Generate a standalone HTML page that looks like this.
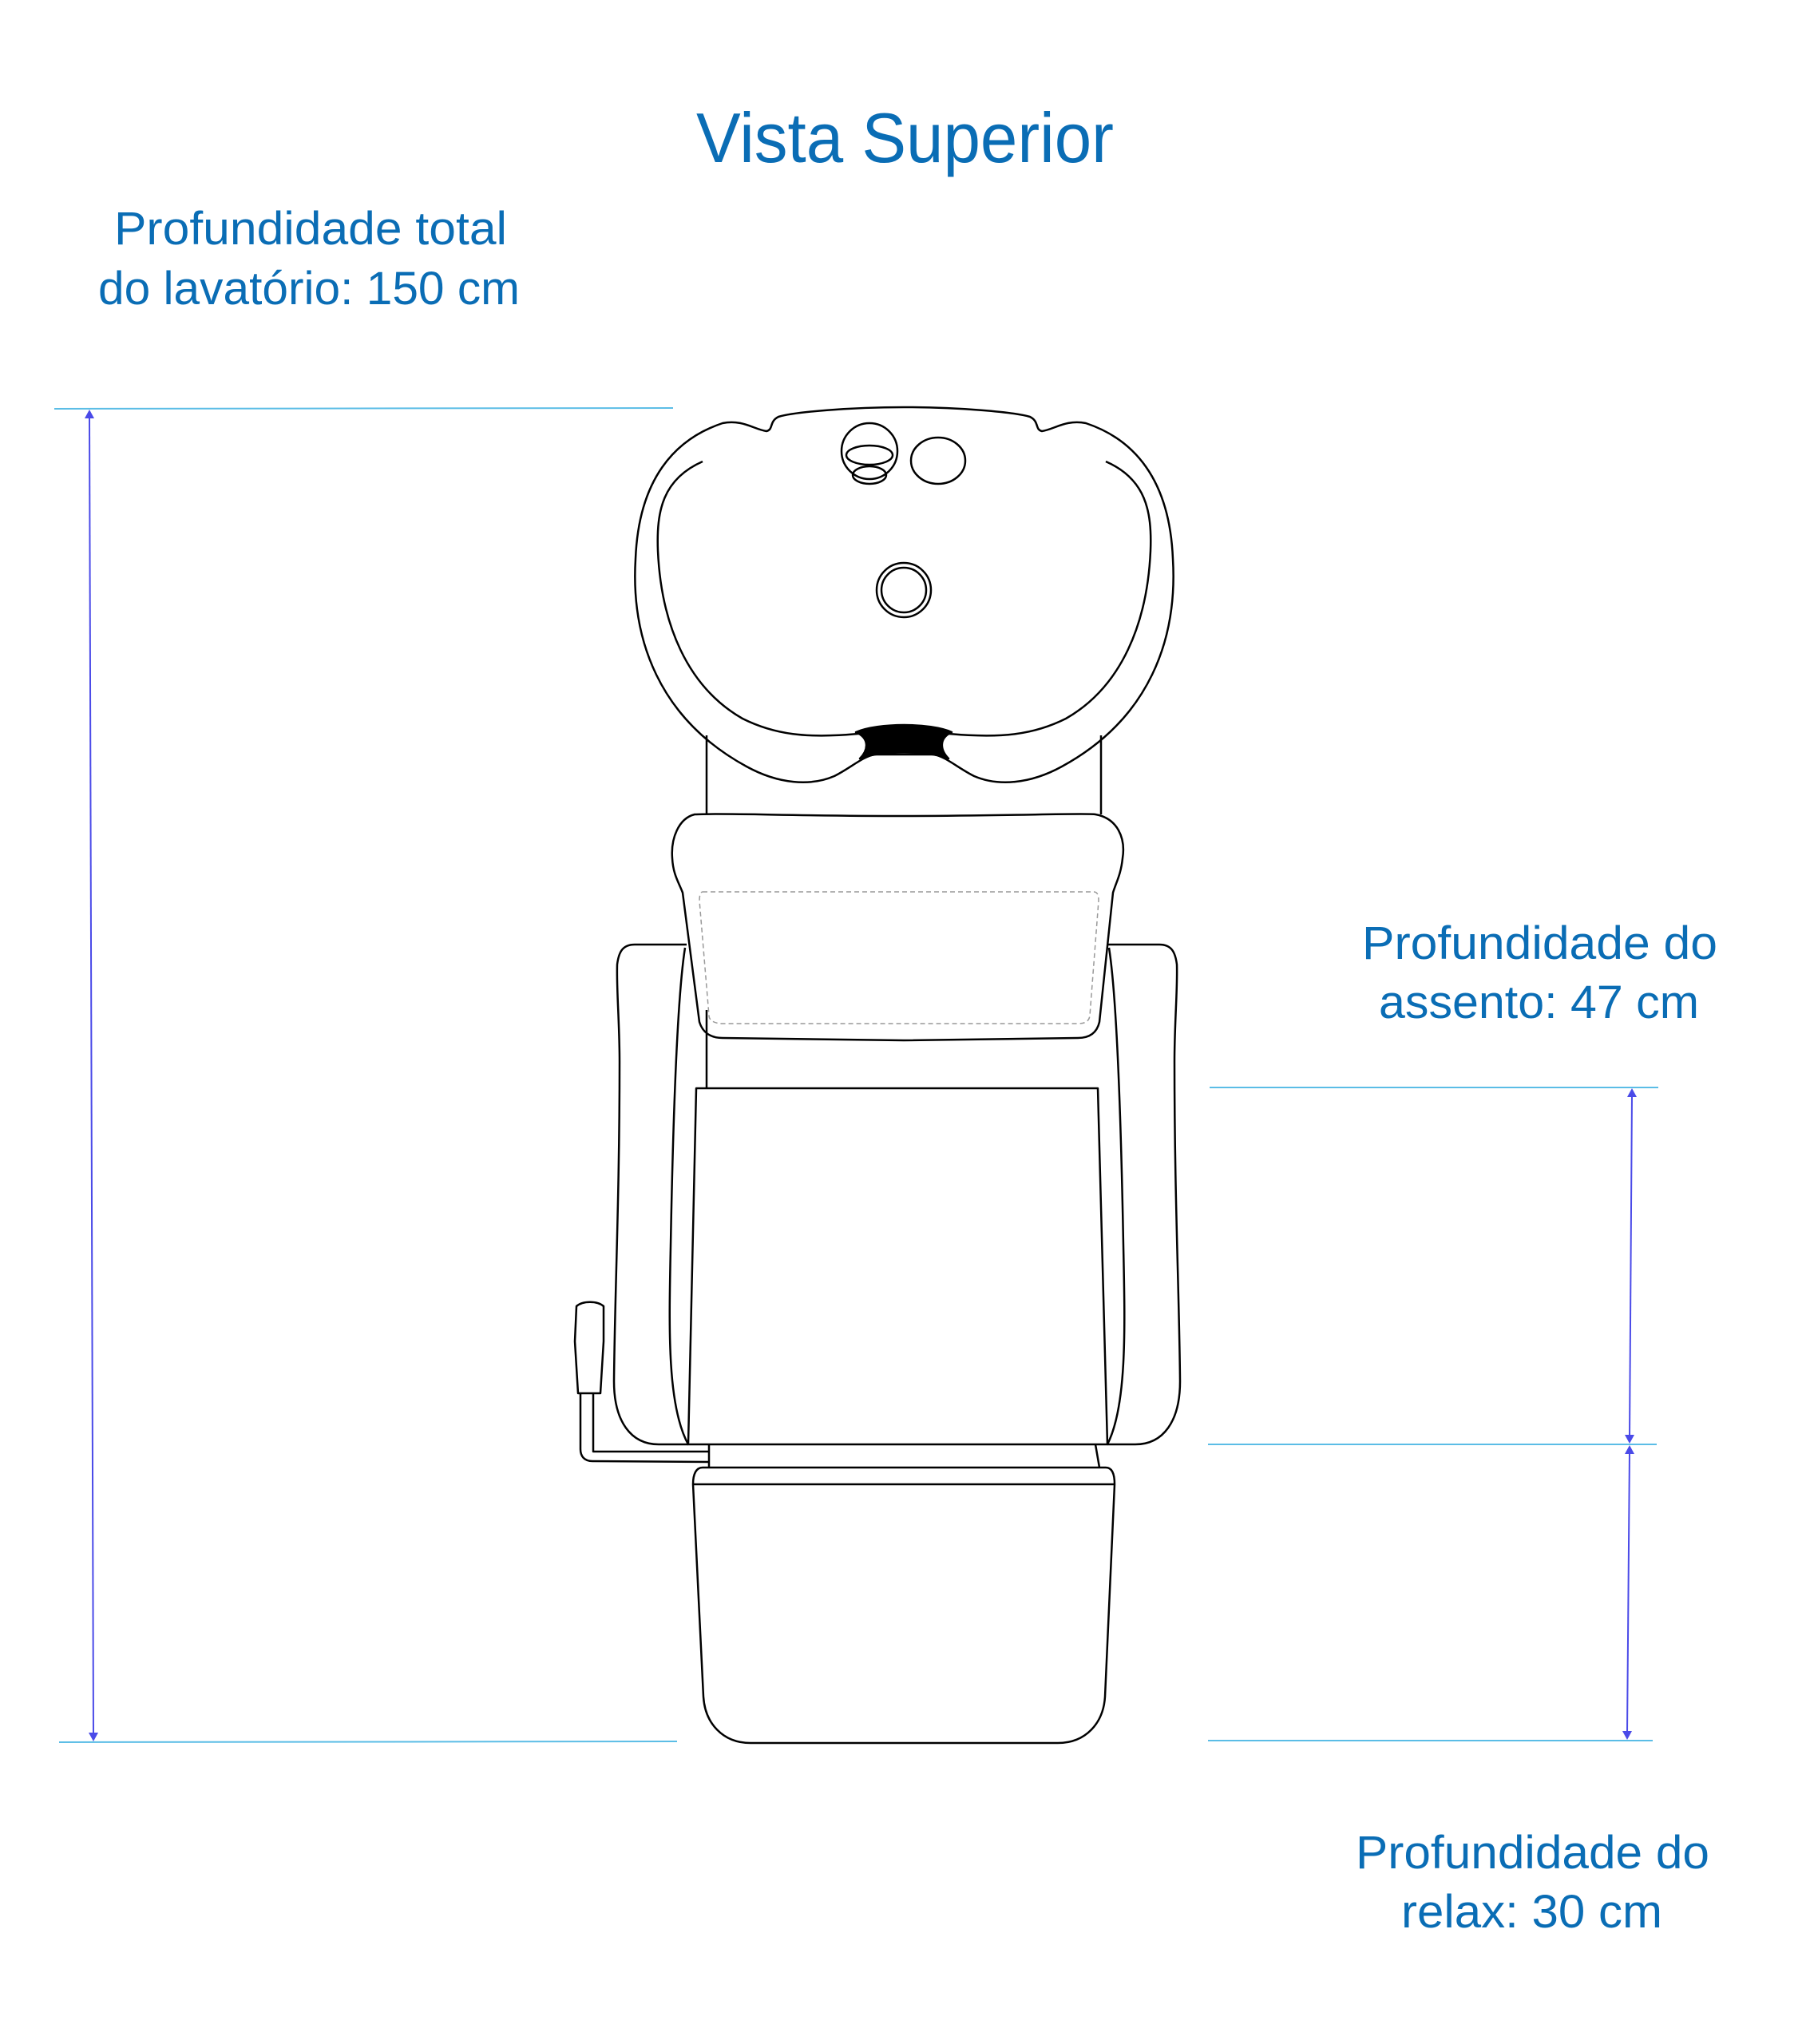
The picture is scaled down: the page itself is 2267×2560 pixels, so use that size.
<!DOCTYPE html>
<html><head><meta charset="utf-8"><style>html,body{margin:0;padding:0;background:#fff}svg{display:block}</style></head>
<body>
<svg width="2267" height="2560" viewBox="0 0 2267 2560" xmlns="http://www.w3.org/2000/svg">
<g font-family="Liberation Sans, sans-serif" fill="#0a6db5">
<text x="872" y="203" font-size="88" textLength="523" lengthAdjust="spacingAndGlyphs">Vista Superior</text>
<text x="143" y="306" font-size="58" textLength="492" lengthAdjust="spacingAndGlyphs">Profundidade total</text>
<text x="123" y="381" font-size="58" textLength="528" lengthAdjust="spacingAndGlyphs">do lavatório: 150 cm</text>
<text x="1706" y="1201" font-size="58" textLength="445" lengthAdjust="spacingAndGlyphs">Profundidade do</text>
<text x="1727" y="1275" font-size="58" textLength="401" lengthAdjust="spacingAndGlyphs">assento: 47 cm</text>
<text x="1698" y="2340" font-size="58" textLength="443" lengthAdjust="spacingAndGlyphs">Profundidade do</text>
<text x="1755" y="2414" font-size="58" textLength="327" lengthAdjust="spacingAndGlyphs">relax: 30 cm</text>
</g>
<g stroke="#5bbde6" stroke-width="2">
<line x1="68" y1="512" x2="843" y2="511"/>
<line x1="74" y1="2182" x2="848" y2="2181"/>
<line x1="1515" y1="1362" x2="2077" y2="1362"/>
<line x1="1513" y1="1809" x2="2075" y2="1809"/>
<line x1="1513" y1="2180" x2="2070" y2="2180"/>
</g>
<g stroke="#4a4ae8" stroke-width="2" fill="#4a4ae8">
<line x1="112" y1="520" x2="117" y2="2173"/>
<polygon points="112,513 106,524 118,524" stroke="none"/>
<polygon points="117,2181 111,2170 123,2170" stroke="none"/>
<line x1="2044" y1="1370" x2="2041" y2="1801"/>
<polygon points="2044,1363 2038,1374 2050,1374" stroke="none"/>
<polygon points="2041,1808 2035,1797 2047,1797" stroke="none"/>
<line x1="2041" y1="1817" x2="2038" y2="2172"/>
<polygon points="2041,1810 2035,1821 2047,1821" stroke="none"/>
<polygon points="2038,2179 2032,2168 2044,2168" stroke="none"/>
</g>
<g fill="none" stroke="#000" stroke-width="2.5" stroke-linejoin="round">
<path d="M885 921 V1020 M1379 921 V1020"/>
<path d="M1132 510 C1200 510 1270 516 1290 522 C1302 528 1296 538 1305 540 C1320 538 1335 525 1360 530 C1420 550 1465 600 1469 700 C1475 800 1440 900 1330 960 C1290 982 1250 985 1220 972 C1200 962 1185 948 1170 945 L1095 945 C1080 948 1065 962 1045 972 C1015 985 975 982 935 960 C825 900 790 800 796 700 C800 600 845 550 905 530 C930 525 945 538 960 540 C969 538 963 528 975 522 C995 516 1065 510 1132 510 Z"/>
<path d="M880 578 C830 600 822 640 824 690 C828 780 860 860 930 900 C970 920 1010 925 1075 919 L1188 919 C1255 925 1295 920 1335 900 C1405 860 1437 780 1441 690 C1443 640 1435 600 1385 578"/>
<path d="M1072 917 C1100 905 1165 905 1192 917 C1175 925 1178 940 1188 950 C1165 940 1100 940 1077 950 C1087 940 1090 925 1072 917 Z" fill="#000"/>
<circle cx="1089" cy="565" r="35"/>
<ellipse cx="1089" cy="570" rx="29" ry="12"/>
<ellipse cx="1089" cy="595" rx="21" ry="11"/>
<ellipse cx="1175" cy="577" rx="34" ry="29"/>
<circle cx="1132" cy="739" r="34"/>
<circle cx="1132" cy="739" r="28"/>
<!-- armrests -->
<path d="M860 1183 L795 1183 C780 1183 775 1192 773 1208 C772 1240 776 1280 776 1330 C776 1500 770 1620 769 1730 C769 1780 790 1809 825 1809 L862 1809"/>
<path d="M858 1187 C848 1250 843 1400 840 1560 C838 1660 835 1760 862 1809"/>
<path d="M1387 1183 L1452 1183 C1467 1183 1472 1192 1474 1208 C1475 1240 1471 1280 1471 1330 C1471 1500 1477 1620 1478 1730 C1478 1780 1457 1809 1422 1809 L1387 1809"/>
<path d="M1389 1187 C1399 1250 1404 1400 1407 1560 C1409 1660 1412 1760 1387 1809"/>
<!-- headrest -->
<path d="M885 1265 V1363"/>
<path d="M870 1020 C900 1018 1000 1022 1132 1022 C1260 1022 1360 1018 1372 1020 C1400 1025 1410 1050 1406 1075 C1404 1095 1398 1105 1394 1118 L1377 1280 C1374 1293 1365 1300 1350 1300 L1132 1303 L905 1300 C890 1300 880 1293 876 1280 L855 1118 C850 1105 843 1095 842 1075 C840 1050 850 1025 870 1020 Z"/>
<!-- seat -->
<path d="M872 1363 L1375 1363 L1387 1809 L862 1809 Z"/>
<path d="M888 1809 V1838 M1372 1809 L1377 1838"/>
<!-- footrest -->
<path d="M880 1838 L1385 1838 C1393 1838 1396 1846 1396 1859 L1384 2125 C1382 2158 1360 2183 1325 2183 L940 2183 C905 2183 883 2158 881 2125 L868 1859 C868 1846 872 1838 880 1838 Z"/>
<path d="M868 1859 H1396"/>
<!-- lever -->
<path d="M722 1636 C730 1629 748 1629 756 1636 L756 1680 L752 1745 L724 1745 L720 1680 Z"/>
<path d="M727 1745 V1815 C727 1824 732 1830 742 1830 L888 1831 M743 1745 V1818 H888"/>
</g>
<path d="M880 1117 L1370 1117 C1376 1117 1376 1125 1376 1128 L1365 1272 C1364 1280 1358 1282 1350 1282 L905 1282 C895 1282 888 1278 888 1272 L876 1128 C876 1120 878 1117 880 1117 Z" fill="none" stroke="#999" stroke-width="1.5" stroke-dasharray="6,4"/>
</svg>
</body></html>
